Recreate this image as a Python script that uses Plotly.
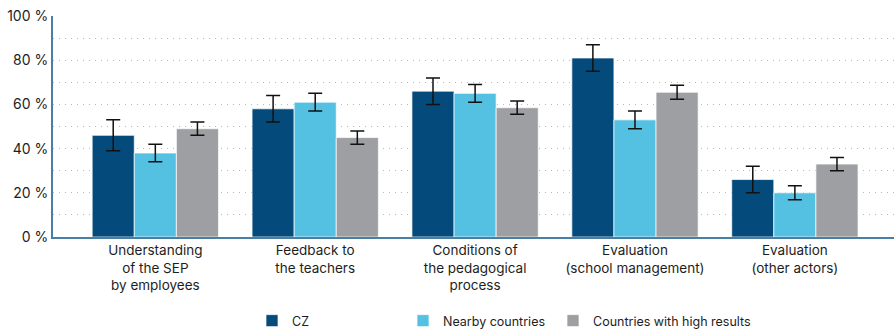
import plotly.graph_objects as go

categories = [
    "Understanding<br>of the SEP<br>by employees",
    "Feedback to<br>the teachers",
    "Conditions of<br>the pedagogical<br>process",
    "Evaluation<br>(school management)",
    "Evaluation<br>(other actors)",
]
series_names = ["CZ", "Nearby countries", "Countries with high results"]
cz = [46, 58, 66, 81, 26]
cz_err = [7, 6, 6, 6, 6]
nearby = [38, 61, 65, 53, 20]
nearby_err = [4, 4, 4, 4, 3.2]
high = [49, 45, 58.5, 65.5, 33]
high_err = [3, 3, 3, 3.2, 3]
colors = ["#044b7b", "#55c1e2", "#9d9fa2"]
legend_ids = ["legend", "legend2", "legend3"]
legend_x = [252, 403, 553]

W, H = 894, 329

fig = go.Figure()
for name, vals, errs, col, lid in zip(series_names, [cz, nearby, high],
                                      [cz_err, nearby_err, high_err], colors, legend_ids):
    fig.add_trace(go.Bar(
        x=list(range(len(categories))), y=vals, name=name, legend=lid,
        marker=dict(color=col, line=dict(color="rgba(255,255,255,0.7)", width=1)),
        error_y=dict(type="data", array=errs, color="#111111", thickness=1.5, width=7),
    ))

legend_common = dict(orientation="h", xref="container", yref="container",
                     y=(H - 321) / H, yanchor="middle", xanchor="left",
                     font=dict(size=12.5), bgcolor="rgba(0,0,0,0)")
layout_legends = {}
for lid, lx in zip(legend_ids, legend_x):
    layout_legends[lid] = dict(x=lx / W, **legend_common)

fig.update_layout(
    width=W, height=H,
    margin=dict(l=53, r=0, t=16, b=92),
    paper_bgcolor="white", plot_bgcolor="white",
    barmode="group", bargap=0.21, bargroupgap=0,
    font=dict(family="Inter, Lato, sans-serif", size=13, color="#1e1e1e"),
    showlegend=True,
    xaxis=dict(
        tickmode="array", tickvals=list(range(len(categories))), ticktext=categories,
        range=[-0.64, 4.62], showline=True, linecolor="#4a7fa5", linewidth=2,
        showgrid=False, ticks="", tickfont=dict(size=13.5),
    ),
    yaxis=dict(
        range=[0, 100], dtick=20, ticksuffix=" %", showline=True,
        linecolor="#4a7fa5", linewidth=2, ticks="",
        showgrid=True, gridcolor="#b8b8b8", griddash="1px,5px", gridwidth=1.2,
        minor=dict(dtick=10, showgrid=True, gridcolor="#b8b8b8", griddash="1px,5px", gridwidth=1.2),
        tickfont=dict(size=14), zeroline=False,
    ),
    **layout_legends,
)

fig.write_html("out.html")
